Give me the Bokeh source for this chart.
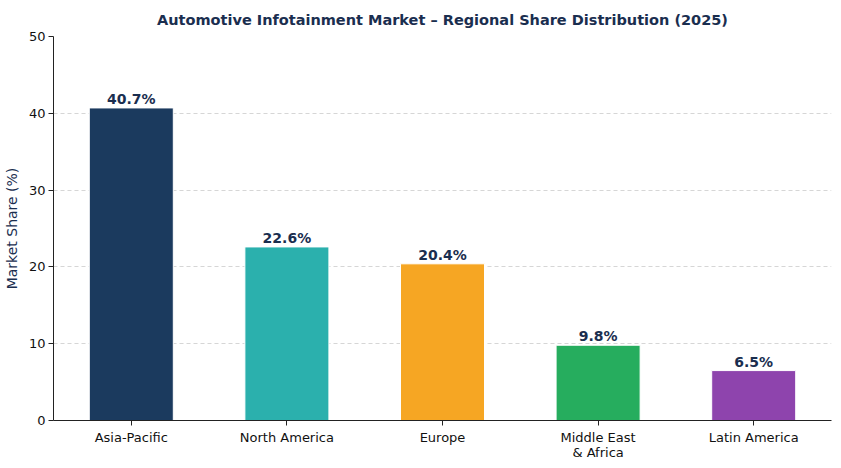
from bokeh.plotting import figure
from bokeh.models import ColumnDataSource, FactorRange
from bokeh.embed import file_html
from bokeh.resources import INLINE
from bokeh.core.properties import value

regions = ["Asia-Pacific", "North America", "Europe", "Middle East\n& Africa", "Latin America"]
shares = [40.7, 22.6, 20.4, 9.8, 6.5]
colors = ["#1b3a5e", "#2bb0ad", "#f6a623", "#26ad5e", "#8e44ad"]
labels = [f"{v:.1f}%" for v in shares]
y_ticks = [0, 10, 20, 30, 40, 50]

FONT = "DejaVu Sans"
NAVY = "#1a2e4f"

src = ColumnDataSource(dict(x=regions, top=shares, color=colors, label=labels))

p = figure(width=833, height=462, x_range=FactorRange(*regions, range_padding=0),
           y_range=(0, 50), output_backend="svg", toolbar_location=None,
           min_border_left=53, min_border_right=2, min_border_top=36, min_border_bottom=41)

p.title.text = "Automotive Infotainment Market \u2013 Regional Share Distribution (2025)"
p.title.align = "center"
p.title.text_font = FONT
p.title.text_font_size = "14.5px"
p.title.text_font_style = "bold"
p.title.text_color = NAVY
p.title.standoff = 17

p.vbar(x="x", top="top", width=0.54, color="color", line_color="#ffffff", line_width=1, source=src)
p.text(x="x", y="top", text="label", source=src, text_align="center", text_baseline="bottom",
       y_offset=-1, text_font=value(FONT), text_font_size="14px", text_font_style="bold",
       text_color=NAVY)

p.yaxis.ticker = y_ticks
p.yaxis.axis_label = "Market Share (%)"
p.yaxis.axis_label_text_font = FONT
p.yaxis.axis_label_text_font_style = "normal"
p.yaxis.axis_label_text_font_size = "14px"
p.yaxis.axis_label_text_color = NAVY
p.yaxis.axis_label_standoff = 6

for ax in (p.xaxis, p.yaxis):
    ax.major_label_text_font = FONT
    ax.major_label_text_font_size = "13px"
    ax.major_label_text_color = "#111111"
    ax.axis_line_color = "#222222"
    ax.major_tick_line_color = "#222222"
    ax.major_tick_in = 0
    ax.major_tick_out = 5
    ax.minor_tick_line_color = None

p.yaxis.major_label_standoff = 3
p.xaxis.major_label_standoff = 4
p.xaxis.major_label_text_line_height = 1.0

p.xgrid.grid_line_color = None
p.ygrid.grid_line_color = "#cccccc"
p.ygrid.grid_line_dash = "4 3"
p.ygrid.grid_line_alpha = 0.8
p.outline_line_color = None

open("out.html", "w").write(file_html(p, INLINE))
